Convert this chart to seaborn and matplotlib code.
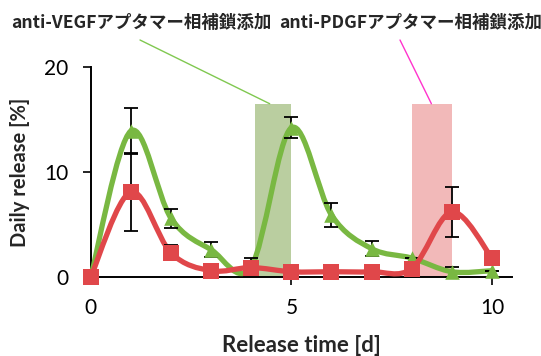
import numpy as np
import pandas as pd
import matplotlib
matplotlib.use("Agg")
import matplotlib.pyplot as plt
import seaborn as sns
from matplotlib.path import Path
from matplotlib.patches import PathPatch

days = [0, 1, 2, 3, 4, 5, 6, 7, 8, 9, 10]
vegf = [0.0, 13.9, 5.6, 2.6, 1.0, 14.2, 5.9, 2.7, 1.8, 0.5, 0.6]
vegf_err = [0.0, 2.2, 0.9, 0.7, 0.8, 1.0, 1.1, 0.7, 0.0, 0.5, 0.0]
pdgf = [0.0, 8.1, 2.3, 0.6, 0.9, 0.5, 0.5, 0.5, 0.8, 6.2, 1.8]
pdgf_err = [0.0, 3.7, 0.7, 0.0, 0.0, 0.0, 0.0, 0.0, 0.0, 2.35, 0.0]

vegf_window = (4.1, 5.0)
pdgf_window = (8.0, 9.0)
window_top = 16.5

vegf_label = "anti-VEGFアプタマー相補鎖添加"
pdgf_label = "anti-PDGFアプタマー相補鎖添加"

green = "#79b842"
red = "#e0474a"

df = pd.DataFrame({"day": days, "vegf": vegf, "pdgf": pdgf})


def smooth_path(x, y):
    # Excel-like smoothed line (Catmull-Rom as cubic Bezier)
    pts = np.column_stack([x, y]).astype(float)
    n = len(pts)
    verts = [pts[0]]
    codes = [Path.MOVETO]
    for i in range(n - 1):
        p0 = pts[max(i - 1, 0)]
        p1 = pts[i]
        p2 = pts[i + 1]
        p3 = pts[min(i + 2, n - 1)]
        c1 = p1 + (p2 - p0) / 6
        c2 = p2 - (p3 - p1) / 6
        verts += [c1, c2, p2]
        codes += [Path.CURVE4] * 3
    return Path(verts, codes)


sns.set_style("ticks")
plt.rcParams["font.family"] = ["Lato", "DejaVu Sans"]

fig = plt.figure(figsize=(5.41, 3.56), dpi=100, facecolor="white")
ax = fig.add_axes([0.1677, 0.2219, 0.7788, 0.59])

ax.axvspan(*vegf_window, ymax=window_top / 20, color="#b3c996", alpha=0.9, lw=0, zorder=1)
ax.axvspan(*pdgf_window, ymax=window_top / 20, color="#f1b2b2", alpha=0.9, lw=0, zorder=1)

ax.add_patch(PathPatch(smooth_path(days, vegf), fill=False, ec=green, lw=3.8,
                       capstyle="round", joinstyle="round", zorder=3, clip_on=False))
ax.add_patch(PathPatch(smooth_path(days, pdgf), fill=False, ec=red, lw=3.8,
                       capstyle="round", joinstyle="round", zorder=5, clip_on=False))

ax.errorbar(days, vegf, yerr=vegf_err, fmt="none", ecolor="black", elinewidth=1.3,
            capsize=5, capthick=1.3, zorder=4)
ax.errorbar(days, pdgf, yerr=pdgf_err, fmt="none", ecolor="black", elinewidth=1.3,
            capsize=5, capthick=1.3, zorder=6)

sns.scatterplot(data=df, x="day", y="vegf", marker="^", s=110, color=green,
                edgecolor=green, linewidth=0, ax=ax, zorder=4, clip_on=False)
sns.scatterplot(data=df, x="day", y="pdgf", marker="s", s=125, color=red,
                edgecolor=red, linewidth=0, ax=ax, zorder=7, clip_on=False)

ax.set_xlim(0, 10.5)
ax.set_ylim(0, 20)
ax.set_xticks([0, 5, 10])
ax.set_yticks([0, 10, 20])
sns.despine(ax=ax)
for s in ["left", "bottom"]:
    ax.spines[s].set_linewidth(1.4)
    ax.spines[s].set_color("black")
ax.tick_params(axis="x", direction="out", length=6, width=1.2, pad=9, labelsize=15, colors="black")
ax.tick_params(axis="y", direction="out", length=6, width=1.2, pad=10, labelsize=15, colors="black")

ax.set_xlabel("Release time [d]", fontsize=16, fontweight="bold", labelpad=12)
ax.set_ylabel("Daily release [%]", fontsize=14.5, fontweight="bold", labelpad=10)

jp = ["Noto Sans CJK JP", "DejaVu Sans"]
fig.text(141 / 541, 1 - 23 / 356, vegf_label, ha="center", va="center",
         family=jp, fontweight="bold", fontsize=12.6)
fig.text(411 / 541, 1 - 23 / 356, pdgf_label, ha="center", va="center",
         family=jp, fontweight="bold", fontsize=12.6)

ax.annotate("", xy=(4.46, window_top), xycoords="data",
            xytext=(140 / 541, 1 - 40 / 356), textcoords="figure fraction",
            arrowprops=dict(arrowstyle="-", color="#80c850", lw=1.0, shrinkA=0, shrinkB=0))
ax.annotate("", xy=(8.49, window_top), xycoords="data",
            xytext=(400 / 541, 1 - 40 / 356), textcoords="figure fraction",
            arrowprops=dict(arrowstyle="-", color="#ff33cc", lw=1.0, shrinkA=0, shrinkB=0))

fig.savefig("out.png", dpi=100)
